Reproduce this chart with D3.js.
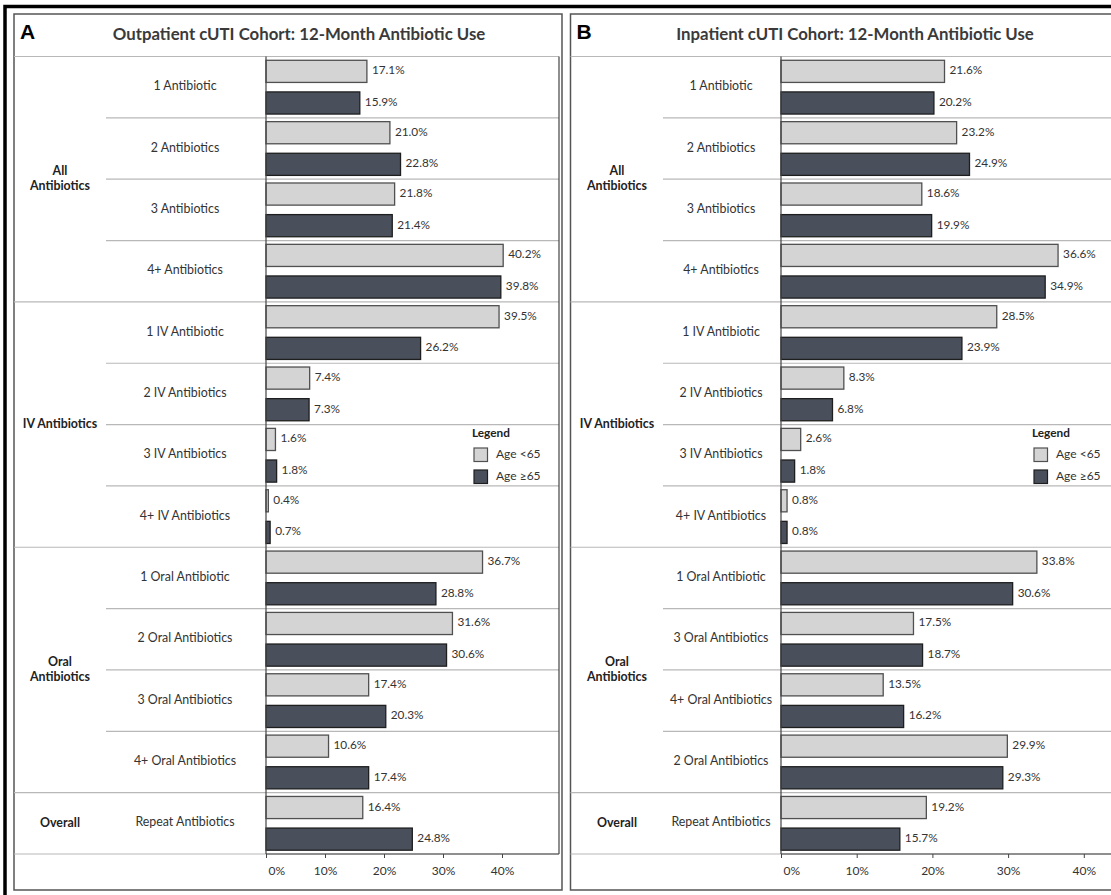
<!DOCTYPE html>
<html>
<head>
<meta charset="utf-8">
<script src="https://cdn.jsdelivr.net/npm/d3@7"></script>
<style>
  html, body { margin: 0; padding: 0; background: #fff; overflow: hidden; }
  svg { display: block; }
  text { font-family: Lato, "Open Sans", sans-serif; }
</style>
</head>
<body>
<svg id="chart" width="1111" height="895"></svg>
<script>
// ---------------- DATA ----------------
const groupLabels = [["All", "Antibiotics"], ["IV Antibiotics"], ["Oral", "Antibiotics"], ["Overall"]];

const titleA = "Outpatient cUTI Cohort: 12-Month Antibiotic Use";
const categoriesA = ["1 Antibiotic", "2 Antibiotics", "3 Antibiotics", "4+ Antibiotics",
  "1 IV Antibiotic", "2 IV Antibiotics", "3 IV Antibiotics", "4+ IV Antibiotics",
  "1 Oral Antibiotic", "2 Oral Antibiotics", "3 Oral Antibiotics", "4+ Oral Antibiotics",
  "Repeat Antibiotics"];
const groupOfA = [0, 0, 0, 0, 1, 1, 1, 1, 2, 2, 2, 2, 3];
const under65A = [17.1, 21.0, 21.8, 40.2, 39.5, 7.4, 1.6, 0.4, 36.7, 31.6, 17.4, 10.6, 16.4];
const over65A  = [15.9, 22.8, 21.4, 39.8, 26.2, 7.3, 1.8, 0.7, 28.8, 30.6, 20.3, 17.4, 24.8];

const titleB = "Inpatient cUTI Cohort: 12-Month Antibiotic Use";
const categoriesB = ["1 Antibiotic", "2 Antibiotics", "3 Antibiotics", "4+ Antibiotics",
  "1 IV Antibiotic", "2 IV Antibiotics", "3 IV Antibiotics", "4+ IV Antibiotics",
  "1 Oral Antibiotic", "3 Oral Antibiotics", "4+ Oral Antibiotics", "2 Oral Antibiotics",
  "Repeat Antibiotics"];
const groupOfB = [0, 0, 0, 0, 1, 1, 1, 1, 2, 2, 2, 2, 3];
const under65B = [21.6, 23.2, 18.6, 36.6, 28.5, 8.3, 2.6, 0.8, 33.8, 17.5, 13.5, 29.9, 19.2];
const over65B  = [20.2, 24.9, 19.9, 34.9, 23.9, 6.8, 1.8, 0.8, 30.6, 18.7, 16.2, 29.3, 15.7];

const seriesNames = ["Age <65", "Age \u226565"];
const tickValues = [0, 10, 20, 30, 40];
const tickLabels = ["0%", "10%", "20%", "30%", "40%"];

// ---------------- STYLE ----------------
const lightFill = "#d4d4d4", lightStroke = "#505050";
const darkFill = "#4a505b", darkStroke = "#1e1e1e";
const sepColor = "#b8b8b8";
const textColor = "#333";

const svg = d3.select("#chart");

// outer thick black frame
svg.append("rect").attr("x", 5).attr("y", 6.5).attr("width", 1200).attr("height", 1000)
  .attr("fill", "none").attr("stroke", "#000").attr("stroke-width", 3.5);

function drawPanel(cfg) {
  const g = svg.append("g");
  const top = 14, bottom = 890, header = 56.5;
  const plotTop = header, axisY = 854;

  // panel frame
  g.append("rect").attr("x", cfg.left).attr("y", top)
    .attr("width", cfg.right - cfg.left).attr("height", bottom - top)
    .attr("fill", "#fff").attr("stroke", "#555").attr("stroke-width", 1.5);

  // panel letter
  g.append("text").attr("x", cfg.left + 6).attr("y", 39)
    .style("font-family", "'Liberation Sans', Arial, sans-serif")
    .attr("font-size", 21).attr("font-weight", "bold").attr("fill", "#000").text(cfg.letter);

  // title
  g.append("text").attr("x", cfg.titleX).attr("y", 36).attr("text-anchor", "middle")
    .attr("dominant-baseline", "middle")
    .attr("font-size", 16.8).attr("font-weight", "bold").attr("fill", "#3a3a3a").text(cfg.title);

  // header line
  g.append("line").attr("x1", cfg.left).attr("x2", cfg.plotRight)
    .attr("y1", header).attr("y2", header).attr("stroke", sepColor).attr("stroke-width", 1.2);

  const n = cfg.categories.length;
  const y = d3.scaleBand().domain(d3.range(n)).range([plotTop, axisY]).padding(0);
  const sub = d3.scaleBand().domain([0, 1]).range([0, y.bandwidth()])
    .paddingInner(0.3).paddingOuter(0.12);
  const x = d3.scaleLinear().domain(cfg.xDomain).range([cfg.plotLeft, cfg.plotRightScale]);

  // row separators
  for (let i = 0; i < n; i++) {
    const yb = y(i) + y.bandwidth();
    const isGroupEnd = i === n - 1 || cfg.groupOf[i + 1] !== cfg.groupOf[i];
    g.append("line")
      .attr("x1", isGroupEnd ? cfg.left : cfg.subSepStart)
      .attr("x2", cfg.plotRight)
      .attr("y1", yb).attr("y2", yb)
      .attr("stroke", sepColor).attr("stroke-width", 1.2);
  }

  // sub-category labels
  g.selectAll("text.cat").data(cfg.categories).join("text")
    .attr("class", "cat")
    .attr("x", cfg.subLabelX)
    .attr("y", (d, i) => y(i) + y.bandwidth() / 2)
    .attr("text-anchor", "middle").attr("dominant-baseline", "middle")
    .attr("font-size", 12.4).attr("fill", textColor).text(d => d);

  // group labels
  groupLabels.forEach((lines, gi) => {
    const idx = d3.range(n).filter(i => cfg.groupOf[i] === gi);
    const y0 = y(idx[0]), y1 = y(idx[idx.length - 1]) + y.bandwidth();
    const cy = (y0 + y1) / 2;
    const t = g.append("text").attr("x", cfg.groupLabelX).attr("text-anchor", "middle")
      .attr("font-size", 12.4).attr("font-weight", "bold").attr("fill", "#222");
    lines.forEach((ln, li) => {
      t.append("tspan").attr("x", cfg.groupLabelX)
        .attr("y", cy + (li - (lines.length - 1) / 2) * 15)
        .attr("dominant-baseline", "middle").text(ln);
    });
  });

  // bars
  const series = [cfg.under, cfg.over];
  const fills = [lightFill, darkFill], strokes = [lightStroke, darkStroke];
  series.forEach((vals, si) => {
    g.selectAll("rect.bar" + si).data(vals).join("rect")
      .attr("class", "bar" + si)
      .attr("x", x(0))
      .attr("y", (d, i) => y(i) + sub(si))
      .attr("width", d => x(d) - x(0))
      .attr("height", sub.bandwidth())
      .attr("fill", fills[si]).attr("stroke", strokes[si]).attr("stroke-width", 1.3);
    g.selectAll("text.val" + si).data(vals).join("text")
      .attr("class", "val" + si)
      .attr("x", d => x(d) + 5)
      .attr("y", (d, i) => y(i) + sub(si) + sub.bandwidth() / 2)
      .attr("dominant-baseline", "middle")
      .attr("font-size", 11.8).attr("fill", textColor)
      .text(d => d.toFixed(1) + "%");
  });

  // plot frame lines
  g.append("line").attr("x1", cfg.plotLeft).attr("x2", cfg.plotLeft)
    .attr("y1", plotTop).attr("y2", axisY).attr("stroke", "#444").attr("stroke-width", 1.2);
  if (cfg.plotRight < 1111) {
    g.append("line").attr("x1", cfg.plotRight).attr("x2", cfg.plotRight)
      .attr("y1", plotTop).attr("y2", axisY).attr("stroke", "#444").attr("stroke-width", 1.2);
  }

  // x axis
  const axis = d3.axisBottom(x).tickValues(tickValues)
    .tickFormat((d, i) => tickLabels[i]).tickSize(4).tickPadding(8);
  const ag = g.append("g").attr("transform", `translate(0,${axisY})`).call(axis);
  ag.select(".domain").attr("d", `M${cfg.plotLeft},0H${cfg.plotRight}`)
    .attr("stroke", "#444").attr("stroke-width", 1.2);
  ag.selectAll(".tick line").attr("stroke", "#444");
  ag.selectAll(".tick text").attr("font-size", 12).attr("fill", textColor)
    .style("font-family", "Lato, 'Open Sans', sans-serif");
  ag.selectAll(".tick text").filter((d) => d === 0).attr("text-anchor", "start").attr("dx", 2);

  // legend
  const lx = cfg.legendX, ly = 434;
  g.append("text").attr("x", lx).attr("y", ly).attr("dominant-baseline", "middle")
    .attr("font-size", 11.8).attr("font-weight", "bold").attr("fill", "#222").text("Legend");
  seriesNames.forEach((nm, si) => {
    g.append("rect").attr("x", lx + 2).attr("y", 448 + si * 22)
      .attr("width", 13.5).attr("height", 13.5)
      .attr("fill", fills[si]).attr("stroke", strokes[si]).attr("stroke-width", 1.2);
    g.append("text").attr("x", lx + 24).attr("y", 455 + si * 22)
      .attr("dominant-baseline", "middle")
      .attr("font-size", 12).attr("fill", textColor).text(nm);
  });
}

drawPanel({
  letter: "A", title: titleA, left: 14, right: 562, titleX: 299,
  groupLabelX: 60, subSepStart: 106, subLabelX: 185,
  plotLeft: 266, plotRight: 559, plotRightScale: 561, xDomain: [0, 50],
  categories: categoriesA, groupOf: groupOfA, under: under65A, over: over65A,
  legendX: 472
});

drawPanel({
  letter: "B", title: titleB, left: 570.5, right: 1130, titleX: 855,
  groupLabelX: 617, subSepStart: 663, subLabelX: 721,
  plotLeft: 781, plotRight: 1130, plotRightScale: 1159.5, xDomain: [0, 50],
  categories: categoriesB, groupOf: groupOfB, under: under65B, over: over65B,
  legendX: 1032
});
</script>
</body>
</html>
